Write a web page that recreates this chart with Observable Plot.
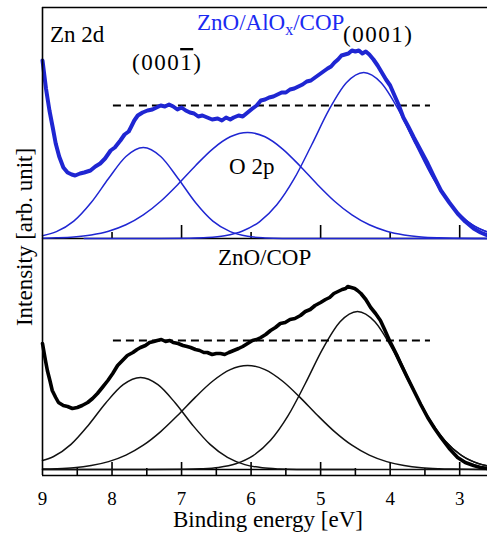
<!DOCTYPE html>
<html><head><meta charset="utf-8">
<script src="https://cdn.jsdelivr.net/npm/d3@7"></script>
<script src="https://cdn.jsdelivr.net/npm/@observablehq/plot@0.6"></script>
<style>
body{margin:0;background:#fff;}
#wrap{position:relative;width:487px;height:538px;overflow:hidden;background:#fff;}
#wrap > svg{position:absolute;left:0;}
</style></head><body><div id="wrap"></div>
<script>
// ---------- data (binding energy in eV, intensity in arb. units) ----------
const topThickE = [9.00,8.95,8.90,8.85,8.81,8.76,8.70,8.64,8.58,8.53,8.46,8.40,8.31,8.24,8.17,8.10,8.02,7.96,7.88,7.82,7.76,7.73,7.68,7.63,7.56,7.49,7.42,7.36,7.30,7.24,7.18,7.12,7.06,7.00,6.94,6.88,6.82,6.76,6.70,6.63,6.56,6.48,6.42,6.36,6.30,6.25,6.18,6.12,6.05,5.98,5.92,5.86,5.80,5.74,5.68,5.62,5.56,5.50,5.44,5.38,5.32,5.26,5.20,5.14,5.08,5.02,4.96,4.90,4.85,4.80,4.75,4.70,4.65,4.60,4.55,4.50,4.45,4.40,4.35,4.30,4.24,4.18,4.12,4.06,4.00,3.95,3.88,3.81,3.74,3.66,3.56,3.46,3.37,3.27,3.15,3.03,2.92,2.80,2.70,2.60];
const topThickI = [178,150,128,110,95,82,71,66,64,63,65,66,68,72,75,80,88,91,98,104,107,111,118,123,126,128,129,131,133,132,134,132,129,131,128,126,125,122,123,121,119,120,118,121,119,121,123,122,126,130,133,138,139,141,142,144,146,146,149,150,152,154,157,158,161,164,167,170,172,176,179,183,184,185,188,187,188,185,187,184,179,173,166,159,153,145,134,121,112,101,88,75,62,48,36,25,17,10,6,3];

const topG1E = [9.0,8.8,8.55,8.3,8.05,7.8,7.55,7.3,7.05,6.8,6.55,6.3,6.05,5.8,5.55,5.0,4.0,2.6];
const topG1I = [2.8,6.9,17.4,36,60,82,91,82,60,36,17.4,6.9,2.2,0.6,0.1,0,0,0];
const topG2E = [9.0,8.8,8.55,8.3,8.05,7.8,7.55,7.3,7.05,6.8,6.55,6.3,6.05,5.8,5.55,5.3,5.05,4.8,4.55,4.3,4.05,3.8,3.55,3.3,3.1,2.6];
const topG2I = [0.3,0.7,1.6,3.6,7.3,13.7,23.6,37.3,54.3,72.8,89.7,101.7,106,101.7,89.7,72.8,54.3,37.3,23.6,13.7,7.3,3.6,1.6,0.7,0.3,0];
const topG3E = [8.4,7.5,6.88,6.63,6.38,6.13,5.88,5.63,5.38,5.13,4.88,4.63,4.38,4.13,3.88,3.63,3.38,3.13,2.88,2.63,2.6];
const topG3I = [0,0,0.3,0.9,2.8,7.3,16.7,33.7,59.8,93.5,128.6,155.7,166,155.7,128.6,93.5,59.8,33.7,16.7,7.3,6.5];
const topFitE = [3.9,3.8,3.6,3.4,3.2,3.0,2.8,2.6];
const topFitI = [136,121,91,63,40.5,24,13,6.5];

const botThickE = [9.00,8.96,8.93,8.89,8.86,8.81,8.77,8.70,8.64,8.57,8.50,8.43,8.35,8.28,8.21,8.14,8.06,7.99,7.92,7.85,7.78,7.70,7.64,7.59,7.52,7.46,7.40,7.35,7.29,7.23,7.17,7.12,7.05,6.98,6.92,6.87,6.80,6.74,6.68,6.63,6.56,6.50,6.44,6.38,6.32,6.25,6.18,6.12,6.05,5.98,5.92,5.86,5.79,5.72,5.65,5.58,5.51,5.44,5.37,5.29,5.22,5.15,5.08,5.00,4.93,4.87,4.81,4.75,4.69,4.64,4.61,4.56,4.51,4.47,4.42,4.35,4.28,4.21,4.14,4.08,4.01,3.93,3.85,3.76,3.66,3.56,3.46,3.36,3.27,3.15,3.03,2.92,2.80,2.70,2.60];
const botThickI = [126,110,99,88,79,72,67,64,63,61,62,64,67,71,76,82,89,96,104,109,114,117,120,122,124,127,128,129,130,128,129,127,126,124,123,122,120,119,117,117,115,116,116,115,117,119,121,123,126,129,130,132,135,139,142,146,147,150,151,154,158,160,164,167,170,172,176,178,180,181,183,182,181,179,176,170,162,156,149,140,129,118,106,93,79,65,52,41,32,21,12,7,4,2,1];

const botG1E = [9.0,8.84,8.59,8.34,8.09,7.84,7.59,7.34,7.09,6.84,6.59,6.34,6.09,5.84,5.59,5.34,4.5,2.6];
const botG1I = [9,13,25.1,44.3,66.5,84.8,92,84.8,66.5,44.3,25.1,12.1,4.9,1.7,0.5,0.1,0,0];
const botG2E = [9.0,8.8,8.55,8.3,8.05,7.8,7.55,7.3,7.05,6.8,6.55,6.3,6.05,5.8,5.55,5.3,5.05,4.8,4.55,4.3,4.05,3.8,3.55,3.3,3.1,2.6];
const botG2I = [0.4,0.8,1.8,4.0,7.9,14.4,24.3,37.9,54.5,72.4,88.5,99.9,104,99.9,88.5,72.4,54.5,37.9,24.3,14.4,7.9,4.0,1.8,0.8,0.4,0];
const botG3E = [9.0,7.5,6.97,6.72,6.47,6.22,5.97,5.72,5.47,5.22,4.97,4.72,4.47,4.22,3.97,3.72,3.47,3.22,2.97,2.72,2.6];
const botG3I = [0,0,0.2,0.7,2.1,5.8,13.9,29.2,53.6,86.0,120.6,147.7,158,147.7,120.6,86.0,53.6,29.2,13.9,5.8,3.6];
const botFitE = [3.9,3.8,3.6,3.4,3.2,3.0,2.8,2.6];
const botFitI = [116,101,71.6,46.7,28,15.3,7.7,3.6];

const dashE = [7.98, 3.42];
const topDashLevel = 133;
const botDashLevel = 129;
const botBaselineE = [9.0, 4.5];

const xDomain = [9, 2.6];
const tickLabels = [9, 8, 7, 6, 5, 4, 3];
const topLongTicks = [7, 5, 3];
const topShortTicks = [8, 6, 4];
const botMajorTicks = [8, 7, 6, 5, 4, 3];
const botMinorTicks = [8.5, 7.5, 6.5, 5.5, 4.5, 3.5];

// ---------- helpers ----------
const pts = (E, I) => E.map((e, i) => ({e, v: I[i]}));
const BLUE = "#1f26d2";
const BLUE_TXT = "#1b2af2";
const FONT = "Liberation Serif, Times New Roman, serif";
const wrap = document.getElementById("wrap");

// ---------- top panel (ZnO/AlOx/COP) ----------
const topPlot = Plot.plot({
  width: 487, height: 238,
  marginLeft: 42, marginRight: 0, marginTop: 7, marginBottom: 0,
  x: {domain: xDomain, axis: null},
  y: {domain: [0, 231], axis: null},
  style: {fontFamily: FONT, fontSize: "19px", background: "transparent", overflow: "visible"},
  marks: [
    Plot.ruleY([0], {stroke: "black", strokeWidth: 1.6}),
    Plot.ruleY([231], {stroke: "black", strokeWidth: 1.6}),
    Plot.axisX(topLongTicks, {tickSize: -13, tickFormat: () => "", stroke: "black", strokeWidth: 1.6, label: null}),
    Plot.axisX(topShortTicks, {tickSize: -6, tickFormat: () => "", stroke: "black", strokeWidth: 1.6, label: null}),
    Plot.line(pts(topG1E, topG1I), {x: "e", y: "v", stroke: BLUE, strokeWidth: 1.5, curve: "monotone-x"}),
    Plot.line(pts(topG2E, topG2I), {x: "e", y: "v", stroke: BLUE, strokeWidth: 1.5, curve: "monotone-x"}),
    Plot.line(pts(topG3E, topG3I), {x: "e", y: "v", stroke: BLUE, strokeWidth: 1.5, curve: "monotone-x"}),
    Plot.line(pts(topFitE, topFitI), {x: "e", y: "v", stroke: BLUE, strokeWidth: 1.3, curve: "monotone-x"}),
    Plot.ruleY([topDashLevel], {x1: dashE[0], x2: dashE[1], stroke: "black", strokeWidth: 1.8, strokeDasharray: "8,5"}),
    Plot.line(pts(topThickE, topThickI), {x: "e", y: "v", stroke: BLUE, strokeWidth: 4, strokeLinejoin: "round", strokeLinecap: "round"}),
    Plot.ruleX([9], {stroke: "black", strokeWidth: 1.6})
  ]
});
topPlot.style.top = "0px";
wrap.appendChild(topPlot);

// ---------- bottom panel (ZnO/COP) ----------
const botPlot = Plot.plot({
  width: 487, height: 300,
  marginLeft: 42, marginRight: 0, marginTop: 0, marginBottom: 63,
  x: {domain: xDomain, axis: null},
  y: {domain: [-6, 231], axis: null},
  style: {fontFamily: FONT, fontSize: "19px", background: "transparent", overflow: "visible"},
  marks: [
    Plot.ruleY([-6], {stroke: "black", strokeWidth: 1.6}),
    Plot.ruleY([0], {x1: botBaselineE[0], x2: botBaselineE[1], stroke: "black", strokeWidth: 1.4}),
    Plot.axisX(botMajorTicks, {tickSize: -13, tickFormat: () => "", stroke: "black", strokeWidth: 1.6, label: null}),
    Plot.axisX(botMinorTicks, {tickSize: -7, tickFormat: () => "", stroke: "black", strokeWidth: 1.6, label: null}),
    Plot.axisX(tickLabels, {tickSize: 0, tickPadding: 16, fontSize: 19, fill: "black", label: null}),
    Plot.line(pts(botG1E, botG1I), {x: "e", y: "v", stroke: "#111", strokeWidth: 1.5, curve: "monotone-x"}),
    Plot.line(pts(botG2E, botG2I), {x: "e", y: "v", stroke: "#111", strokeWidth: 1.5, curve: "monotone-x"}),
    Plot.line(pts(botG3E, botG3I), {x: "e", y: "v", stroke: "#111", strokeWidth: 1.5, curve: "monotone-x"}),
    Plot.line(pts(botFitE, botFitI), {x: "e", y: "v", stroke: "#111", strokeWidth: 1.3, curve: "monotone-x"}),
    Plot.ruleY([botDashLevel], {x1: dashE[0], x2: dashE[1], stroke: "black", strokeWidth: 1.8, strokeDasharray: "8,5"}),
    Plot.line(pts(botThickE, botThickI), {x: "e", y: "v", stroke: "black", strokeWidth: 3.6, strokeLinejoin: "round", strokeLinecap: "round"}),
    Plot.ruleX([9], {stroke: "black", strokeWidth: 1.6})
  ]
});
botPlot.style.top = "238px";
wrap.appendChild(botPlot);

// ---------- annotations ----------
function label(plot, e, v, opts = {}) {
  return d3.select(plot).append("text")
    .attr("x", plot.scale("x").apply(e))
    .attr("y", plot.scale("y").apply(v))
    .attr("text-anchor", "start")
    .attr("font-family", FONT)
    .attr("font-size", opts.size || 23)
    .attr("fill", opts.fill || "black")
    .attr("letter-spacing", opts.ls || 0);
}
label(topPlot, 8.885, 196).text("Zn 2d");
const t1 = label(topPlot, 7.705, 168, {ls: 1.5});
t1.append("tspan").text("(000");
t1.append("tspan").style("text-decoration", "overline").text("1");
t1.append("tspan").text(")");
const t2 = label(topPlot, 6.77, 208, {fill: BLUE_TXT});
t2.append("tspan").text("ZnO/AlO");
t2.append("tspan").attr("font-size", 16).attr("dy", 5).text("x");
t2.append("tspan").attr("dy", -5).text("/COP");
label(topPlot, 4.67, 196, {ls: 1.5}).text("(0001)");
label(topPlot, 6.31, 64).text("O 2p");
label(botPlot, 6.47, 204).text("ZnO/COP");

// x axis title
d3.select(botPlot).append("text")
  .attr("x", 268).attr("y", 289)
  .attr("text-anchor", "middle")
  .attr("font-family", FONT).attr("font-size", 23)
  .text("Binding energy [eV]");

// y axis title spanning both panels
const ov = d3.select(wrap).append("svg")
  .attr("width", 487).attr("height", 538)
  .style("position", "absolute").style("top", "0px").style("left", "0px")
  .style("pointer-events", "none");
ov.append("text")
  .attr("transform", "translate(32,237) rotate(-90)")
  .attr("text-anchor", "middle")
  .attr("font-family", FONT).attr("font-size", 23)
  .text("Intensity [arb. unit]");
</script></body></html>
